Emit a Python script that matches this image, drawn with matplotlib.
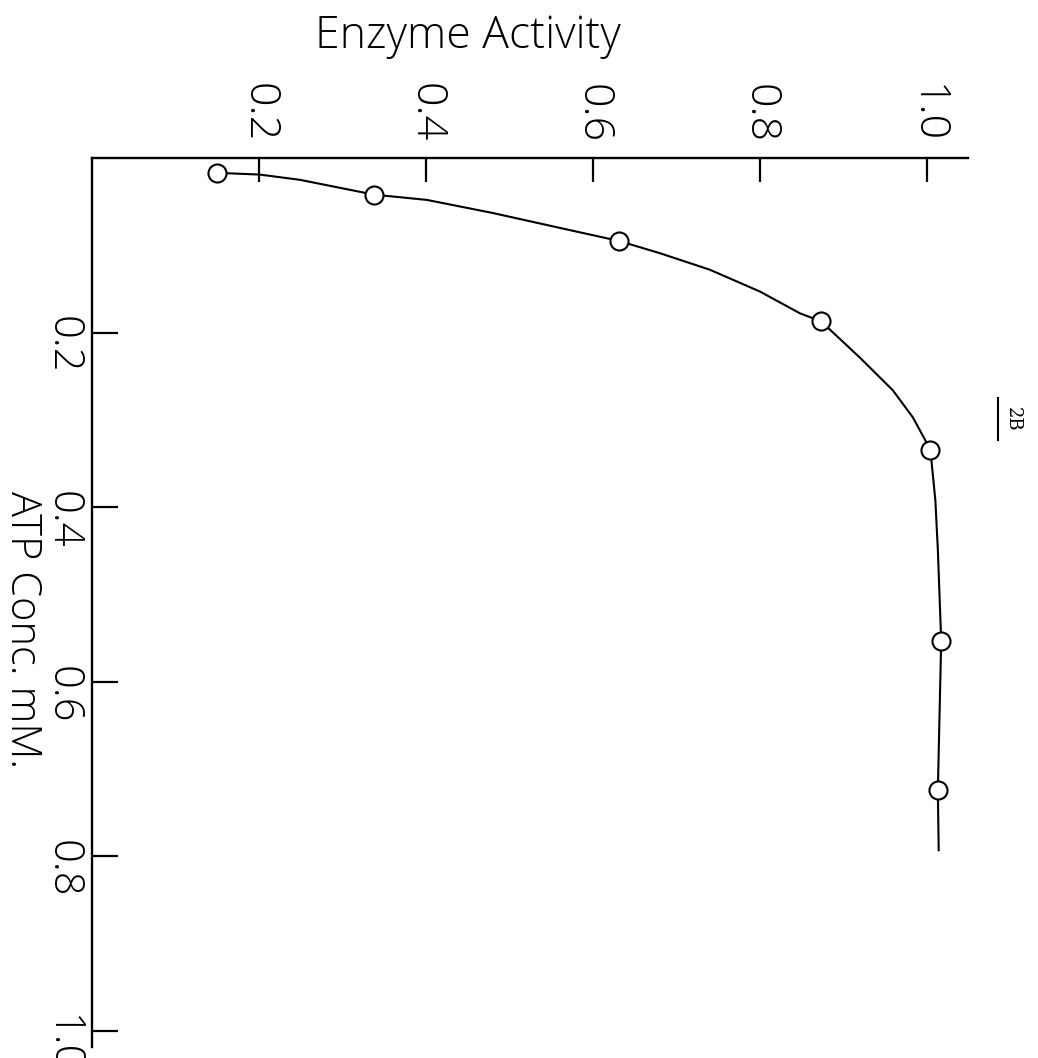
import matplotlib.pyplot as plt
from matplotlib.lines import Line2D

# measured points (ATP conc in mM, relative enzyme activity)
atp_conc = [0.017, 0.042, 0.095, 0.187, 0.334, 0.553, 0.724]
activity = [0.150, 0.338, 0.631, 0.873, 1.004, 1.017, 1.013]

# hand-drawn curve
curve_atp = [0.017, 0.019, 0.025, 0.042, 0.048, 0.063, 0.080, 0.095,
             0.109, 0.128, 0.153, 0.178, 0.187, 0.229, 0.266, 0.297,
             0.334, 0.363, 0.392, 0.449, 0.553, 0.724, 0.793]
curve_activity = [0.150, 0.201, 0.249, 0.338, 0.401, 0.480, 0.560, 0.631,
                  0.680, 0.740, 0.800, 0.848, 0.873, 0.920, 0.959, 0.983,
                  1.004, 1.007, 1.010, 1.013, 1.017, 1.013, 1.014]

activity_ticks = [0.2, 0.4, 0.6, 0.8, 1.0]
activity_labels = ['0.2', '0.4', '0.6', '0.8', '1.0']
atp_ticks = [0.2, 0.4, 0.6, 0.8, 1.0]
atp_labels = ['0.2', '0.4', '0.6', '0.8', '1.0']

plt.rcParams['font.family'] = ['Open Sans', 'DejaVu Sans']
plt.rcParams['font.weight'] = 'light'

W, H = 1038, 1058
fig = plt.figure(figsize=(W / 100, H / 100), dpi=100)
ax = fig.add_axes([92 / W, 1 - 1047 / H, 876 / W, 889 / H])

ax.plot(curve_activity, curve_atp, color='black', lw=1.5, zorder=2,
        solid_joinstyle='round')
ax.plot(activity, atp_conc, 'o', ms=13, mfc='white', mec='black', mew=1.5,
        zorder=3)

ax.set_xlim(0, 876 / 835)
ax.set_ylim(889 / 873, 0)
ax.xaxis.tick_top()
ax.spines['right'].set_visible(False)
ax.spines['bottom'].set_visible(False)
for s in ['top', 'left']:
    ax.spines[s].set_linewidth(1.7)

ax.set_xticks(activity_ticks, activity_labels)
ax.set_yticks(atp_ticks, atp_labels)
ax.tick_params(axis='x', direction='in', length=17, width=1.6, pad=11,
               labelsize=31, labelrotation=-90)
ax.tick_params(axis='y', direction='in', length=19, width=1.6, pad=6,
               labelsize=30, labelrotation=-90)

fig.text(468 / W, 1 - 48 / H, 'Enzyme Activity', ha='center', va='baseline',
         fontsize=32)
fig.text(22 / W, 1 - 630 / H, 'ATP Conc. mM.', rotation=-90, ha='center',
         va='center', fontsize=30)
fig.text(1013 / W, 1 - 419 / H, '2B', rotation=-90, ha='center', va='center',
         fontsize=13, family='DejaVu Serif', weight='normal')
fig.add_artist(Line2D([998 / W, 998 / W], [1 - 398 / H, 1 - 440 / H],
                      color='black', lw=1.5))

fig.savefig('out.png', dpi=100)
